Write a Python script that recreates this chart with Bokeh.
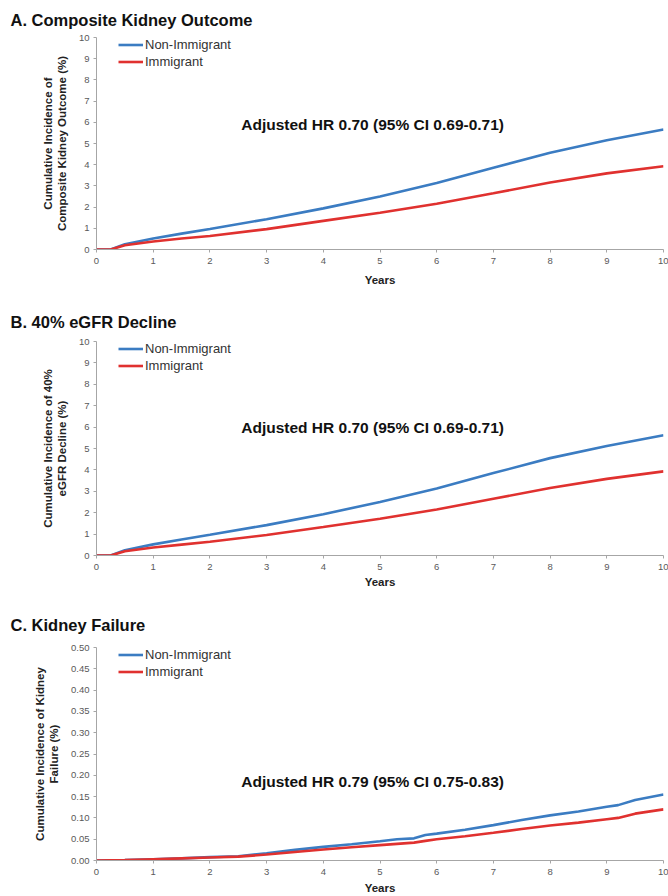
from bokeh.plotting import figure
from bokeh.models import FixedTicker, PrintfTickFormatter, Label, Title
from bokeh.layouts import column
from bokeh.embed import file_html
from bokeh.resources import INLINE

# ---------------- data ----------------
years_ab = [0, 0.25, 0.5, 1, 1.5, 2, 3, 4, 5, 6, 7, 8, 9, 10]
a_non_immigrant = [0, 0.0, 0.25, 0.52, 0.75, 0.97, 1.43, 1.94, 2.50, 3.14, 3.86, 4.56, 5.15, 5.66]
a_immigrant = [0, 0.0, 0.20, 0.38, 0.52, 0.64, 0.96, 1.35, 1.73, 2.16, 2.65, 3.16, 3.59, 3.93]
b_non_immigrant = [0, 0.0, 0.25, 0.52, 0.75, 0.97, 1.42, 1.93, 2.50, 3.13, 3.85, 4.55, 5.12, 5.62]
b_immigrant = [0, 0.0, 0.20, 0.37, 0.51, 0.64, 0.96, 1.33, 1.72, 2.15, 2.65, 3.15, 3.58, 3.93]

years_c = [0, 0.5, 1, 1.5, 2, 2.5, 3, 3.5, 4, 4.5, 5, 5.3, 5.6, 5.8, 6, 6.5, 7, 7.5, 8, 8.5, 9, 9.2, 9.5, 10]
c_non_immigrant = [0, 0.001, 0.003, 0.005, 0.008, 0.010, 0.017, 0.025, 0.032, 0.038, 0.045, 0.050, 0.052, 0.060, 0.063,
                   0.072, 0.083, 0.095, 0.106, 0.115, 0.126, 0.130, 0.142, 0.155]
c_immigrant = [0, 0.001, 0.003, 0.005, 0.007, 0.009, 0.014, 0.020, 0.026, 0.031, 0.036, 0.039, 0.042, 0.046, 0.050,
               0.057, 0.065, 0.074, 0.082, 0.089, 0.097, 0.100, 0.110, 0.120]

x_ticks = list(range(0, 11))
y_ticks_ab = list(range(0, 11))
y_ticks_c = [0, 0.05, 0.10, 0.15, 0.20, 0.25, 0.30, 0.35, 0.40, 0.45, 0.50]

series_names = ["Non-Immigrant", "Immigrant"]
panel_titles = ["A. Composite Kidney Outcome", "B. 40% eGFR Decline", "C. Kidney Failure"]
hr_a = "Adjusted HR 0.70 (95% CI 0.69-0.71)"
hr_b = "Adjusted HR 0.70 (95% CI 0.69-0.71)"
hr_c = "Adjusted HR 0.79 (95% CI 0.75-0.83)"

BLUE = "#3B7CC2"
RED = "#E0312F"
AXIS = "#A6A6A6"
FONT = "Liberation Sans"
W = 668


def make_panel(title, ylabel, years, non, imm, yticks, ymax, hr_text, hr_x, hr_y,
               height, top, bottom, xlabel_standoff, fmt=None):
    p = figure(width=W, height=height, x_range=(0, 10), y_range=(0, ymax),
               output_backend="svg", toolbar_location=None,
               min_border_left=96, min_border_right=5,
               min_border_top=top, min_border_bottom=bottom)

    # title lifted as high as the top border allows
    ttl = Title(text=title, text_font=FONT, text_font_size="16.5px",
                text_font_style="bold", text_color="#111111",
                offset=-86, standoff=top - 23, vertical_align="top")
    p.add_layout(ttl, "above")

    p.line(years, non, color=BLUE, line_width=2.6, legend_label=series_names[0])
    p.line(years, imm, color=RED, line_width=2.6, legend_label=series_names[1])

    p.xgrid.visible = False
    p.ygrid.visible = False
    p.outline_line_color = None

    for ax in (p.xaxis[0], p.yaxis[0]):
        ax.axis_line_color = AXIS
        ax.major_tick_line_color = AXIS
        ax.minor_tick_line_color = None
        ax.major_tick_out = 3
        ax.major_tick_in = 0
        ax.major_label_text_font = FONT
        ax.major_label_text_font_size = "9.5px"
        ax.major_label_text_color = "#595959"
        ax.axis_label_text_font = FONT
        ax.axis_label_text_font_style = "bold"
        ax.axis_label_text_color = "#222222"
        ax.axis_label_text_font_size = "11.5px"

    p.xaxis.ticker = FixedTicker(ticks=x_ticks)
    p.yaxis.ticker = FixedTicker(ticks=yticks)
    if fmt:
        p.yaxis.formatter = PrintfTickFormatter(format=fmt)
    p.xaxis.axis_label = "Years"
    p.xaxis.axis_label_standoff = xlabel_standoff
    p.xaxis.major_label_standoff = 5
    p.yaxis.axis_label = ylabel
    p.yaxis.axis_label_standoff = 8
    p.yaxis.major_label_standoff = 4

    frame_h = height - top - bottom
    lg = p.legend[0]
    lg.location = (22, frame_h - 34 + 1)
    lg.padding = 0
    lg.margin = 0
    lg.spacing = 0
    lg.glyph_width = 25
    lg.glyph_height = 17
    lg.label_height = 17
    lg.label_standoff = 2
    lg.label_text_font = FONT
    lg.label_text_font_size = "13px"
    lg.label_text_color = "#333333"
    lg.background_fill_alpha = 0
    lg.border_line_alpha = 0

    p.add_layout(Label(x=hr_x, y=hr_y, text=hr_text, text_align="center",
                       text_baseline="middle", text_font=FONT,
                       text_font_style="bold", text_font_size="15.5px",
                       text_color="#111111"))
    return p


pa = make_panel(panel_titles[0],
                "Cumulative Incidence of\nComposite Kidney Outcome (%)",
                years_ab, a_non_immigrant, a_immigrant, y_ticks_ab, 10,
                hr_a, 4.87, 5.9, 300, 37, 51, 7)
pb = make_panel(panel_titles[1],
                "Cumulative Incidence of 40%\neGFR Decline (%)",
                years_ab, b_non_immigrant, b_immigrant, y_ticks_ab, 10,
                hr_b, 4.87, 6.0, 300, 41, 45, 3)
pc = make_panel(panel_titles[2],
                "Cumulative Incidence of Kidney\nFailure (%)",
                years_c, c_non_immigrant, c_immigrant, y_ticks_c, 0.5,
                hr_c, 4.87, 0.185, 296, 47, 36, 4, fmt="%.2f")

layout = column(pa, pb, pc, spacing=0)
open("out.html", "w").write(file_html(layout, INLINE))
